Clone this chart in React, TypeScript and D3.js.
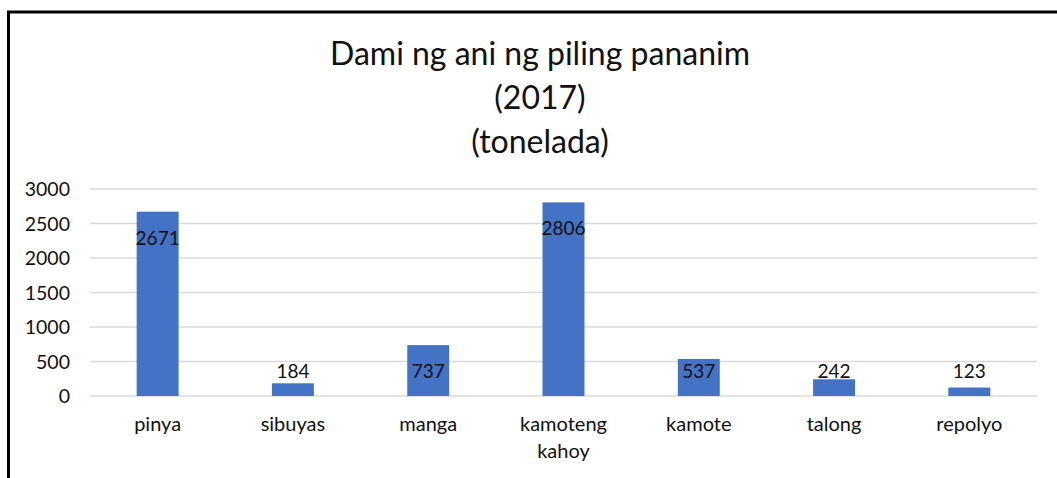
import React from 'react';
import * as d3 from 'd3';

const categories = ['pinya', 'sibuyas', 'manga', 'kamoteng kahoy', 'kamote', 'talong', 'repolyo'];
const values = [2671, 184, 737, 2806, 537, 242, 123];
const yTicks = [0, 500, 1000, 1500, 2000, 2500, 3000];
const titleLines = ['Dami ng ani ng piling pananim', '(2017)', '(tonelada)'];

const W = 1057;
const H = 478;
const FONT = 'Lato, "Open Sans", sans-serif';
const TEXT = '#111';

export default function App() {
  // plot area
  const left = 90;
  const right = 1037;
  const top = 189;
  const bottom = 396;

  const x = d3.scaleBand<string>()
    .domain(categories)
    .range([left, right])
    .paddingInner(0.69)
    .paddingOuter(0.345);

  const y = d3.scaleLinear()
    .domain([0, 3000])
    .range([bottom, top]);

  const mid = (c: string) => (x(c) as number) + x.bandwidth() / 2;

  return (
    <div style={{ position: 'absolute', left: 0, top: 0 }}>
      <svg width={W} height={H} style={{ display: 'block', background: '#fff' }}>
        {/* outer frame, cut off on the right and bottom */}
        <rect x={8.5} y={12} width={W + 20} height={H + 20} fill="#fff" stroke="#000" strokeWidth={3} />

        {/* title */}
        {titleLines.map((t, i) => (
          <text key={t} x={540} y={65 + i * 44} textAnchor="middle"
            fontFamily={FONT} fontSize={32} fill={TEXT}>{t}</text>
        ))}

        {/* gridlines + y ticks */}
        {yTicks.map(t => (
          <g key={t}>
            <line x1={left} x2={right} y1={y(t)} y2={y(t)} stroke="#d9d9d9" strokeWidth={1.5} />
            <text x={70} y={y(t) + 7} textAnchor="end" fontFamily={FONT} fontSize={19.5} fill={TEXT}>{t}</text>
          </g>
        ))}

        {/* bars */}
        {categories.map((c, i) => (
          <rect key={c} x={x(c)} y={y(values[i])} width={x.bandwidth()}
            height={bottom - y(values[i])} fill="#4472c4" />
        ))}

        {/* data labels */}
        {categories.map((c, i) => (
          <text key={c} x={mid(c)}
            y={Math.min(y(values[i]) + 33, bottom - 18)}
            textAnchor="middle" fontFamily={FONT} fontSize={19} fill={TEXT}>{values[i]}</text>
        ))}

        {/* category labels */}
        {categories.map(c => (
          <text key={c} x={mid(c)} y={431}
            textAnchor="middle" fontFamily={FONT} fontSize={20} fill={TEXT}>
            {c.split(' ').map((w, j) => (
              <tspan key={w} x={mid(c)} dy={j === 0 ? 0 : 27}>{w}</tspan>
            ))}
          </text>
        ))}
      </svg>
    </div>
  );
}
